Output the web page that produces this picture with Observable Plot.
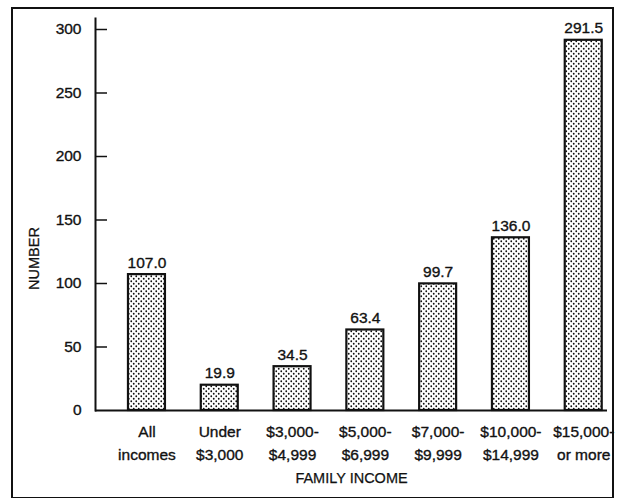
<!DOCTYPE html>
<html>
<head>
<meta charset="utf-8">
<script src="https://cdn.jsdelivr.net/npm/d3@7"></script>
<script src="https://cdn.jsdelivr.net/npm/@observablehq/plot@0.6"></script>
<style>
  html, body { margin: 0; padding: 0; background: #fff; }
  #wrap { position: relative; width: 618px; height: 500px; overflow: hidden; }
  #box { position: absolute; left: 11px; top: 7px; width: 599px; height: 488px; border: 2px solid #111; border-bottom-width: 1.5px; }
  #chart { position: absolute; left: 0; top: 0; }
</style>
</head>
<body>
<div id="wrap"><div id="box"></div><div id="chart"></div></div>
<script>
const categories = ["All incomes", "Under $3,000", "$3,000-$4,999", "$5,000-$6,999", "$7,000-$9,999", "$10,000-$14,999", "$15,000-or more"];
const labelLine1 = ["All", "Under", "$3,000-", "$5,000-", "$7,000-", "$10,000-", "$15,000-"];
const labelLine2 = ["incomes", "$3,000", "$4,999", "$6,999", "$9,999", "$14,999", "or more"];
const values = [107.0, 19.9, 34.5, 63.4, 99.7, 136.0, 291.5];
const yTicks = [0, 50, 100, 150, 200, 250, 300];

const data = categories.map((c, i) => ({cat: c, value: values[i], l1: labelLine1[i], l2: labelLine2[i]}));

const W = 618, H = 500, mL = 95, mR = 11;
const font = "'Liberation Sans', Arial, Helvetica, sans-serif";
const fs = 15.5;
const txt = {fill: "#111", stroke: "#111", strokeWidth: 0.35};

const plot = Plot.plot({
  width: W,
  height: H,
  marginLeft: mL,
  marginRight: mR,
  marginTop: 18,
  marginBottom: 90,
  style: {fontFamily: font, fontSize: "15px", color: "#111", background: "transparent"},
  x: {type: "band", domain: categories, range: [95, 634.7], paddingInner: 0.492, paddingOuter: 0.453, round: false, axis: null},
  y: {domain: [0, 300], range: [410, 29], axis: null},
  marks: [
    Plot.barY(data, {x: "cat", y: "value", fill: "url(#stipple)", stroke: "#111", strokeWidth: 2.2}),
    Plot.text(data, {x: "cat", y: "value", text: d => d.value.toFixed(1), dy: -12, fontSize: fs, ...txt}),
    Plot.text(data, {x: "cat", y: 0, text: "l1", dy: 22, fontSize: fs, ...txt}),
    Plot.text(data, {x: "cat", y: 0, text: "l2", dy: 45, fontSize: fs, ...txt}),
    Plot.text(yTicks, {y: d => d, text: d => String(d), frameAnchor: "left", textAnchor: "end", dx: -14, fontSize: fs, ...txt}),
    Plot.ruleY(yTicks.slice(1), {y: d => d, insetRight: W - mL - mR - 12, stroke: "#111", strokeWidth: 1.5}),
    Plot.frame({anchor: "left", stroke: "#111", strokeWidth: 2}),
    Plot.ruleY([0], {stroke: "#111", strokeWidth: 2}),
    Plot.text(["FAMILY INCOME"], {frameAnchor: "bottom", textAnchor: "middle", dy: 72, fontSize: 14.5, fill: "#111", stroke: "#111", strokeWidth: 0.25}),
    Plot.text(["NUMBER"], {frameAnchor: "left", textAnchor: "middle", rotate: -90, dx: -61, dy: 44, fontSize: 14.5, fill: "#111", stroke: "#111", strokeWidth: 0.25})
  ]
});

// stipple pattern definition
const svg = d3.select(plot);
const defs = svg.insert("defs", ":first-child");
const pat = defs.append("pattern")
  .attr("id", "stipple")
  .attr("patternUnits", "userSpaceOnUse")
  .attr("width", 5)
  .attr("height", 5);
pat.append("rect").attr("width", 5).attr("height", 5).attr("fill", "#fff");
pat.append("circle").attr("cx", 1.25).attr("cy", 1.25).attr("r", 0.9).attr("fill", "#111");
pat.append("circle").attr("cx", 3.75).attr("cy", 3.75).attr("r", 0.9).attr("fill", "#111");

document.getElementById("chart").appendChild(plot);
</script>
</body>
</html>
